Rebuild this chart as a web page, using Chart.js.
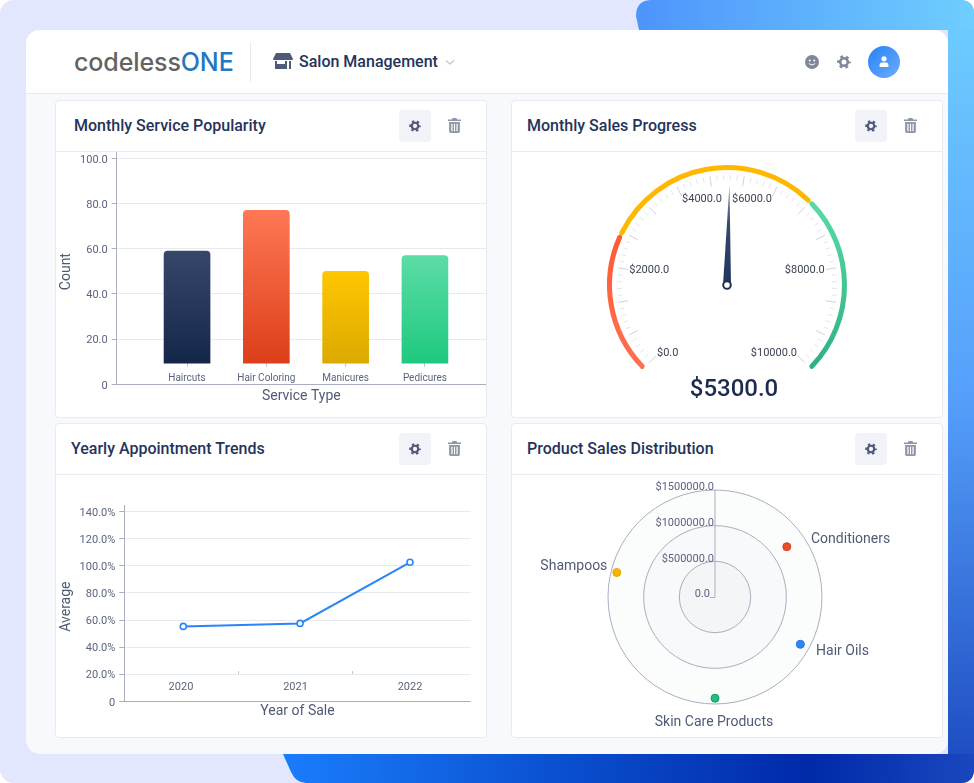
<!DOCTYPE html>
<html>
<head>
<meta charset="utf-8">
<title>Salon Management</title>
<script src="https://cdn.jsdelivr.net/npm/chart.js@4/dist/chart.umd.min.js"></script>
<style>
  html, body { margin: 0; padding: 0; background: #fff; }
  body { width: 974px; height: 783px; position: relative; overflow: hidden; font-family: Roboto, sans-serif; }
  .abs { position: absolute; }
  .bg { left: 0; top: 0; width: 974px; height: 783px; background: #e3e7fd; border-radius: 14px; }
  .blue { left: 0; top: 0; width: 974px; height: 783px;
    clip-path: path("M652 0 H960 Q974 0 974 14 V769 Q974 783 960 783 H306 Q296 783 291 772 L283 754 L500 400 L639 30 L636 16 Q636 0 652 0 Z");
    background:
      linear-gradient(90deg, #4d94fb 636px, #6fceff 974px) 0 0 / 974px 30px no-repeat,
      linear-gradient(90deg, #1a7dfc 283px, #0a50d0 560px, #0029a8 810px, #1a47bf 974px) 0 754px / 974px 29px no-repeat,
      linear-gradient(180deg, #6fceff 0, #559ffb 400px, #3d7be0 560px, #1a47bf 783px) 948px 0 / 26px 783px no-repeat;
  }
  .main { left: 26px; top: 30px; width: 922px; height: 724px; background: #f8f9fc; border-radius: 14px; }
  .top { left: 26px; top: 30px; width: 922px; height: 63px; background: #fff; border-radius: 14px 14px 0 0; border-bottom: 1px solid #e8eaf0; }
  .sep { left: 250px; top: 42px; width: 1px; height: 40px; background: #e8e9ef; }
  .logo { left: 74px; top: 44px; font: 500 25px Inter, sans-serif; color: #636363; line-height: 36px; letter-spacing: -0.1px; white-space: nowrap; }
  .logo b { font-weight: 500; color: #1f78c1; }
  .app { left: 299px; top: 52px; font: 500 16px/20px Roboto, sans-serif; color: #25335a; white-space: nowrap; }
  .card { background: #fff; border: 1px solid #e8ebf2; border-radius: 4px; box-sizing: border-box; }
  .rule { height: 1px; background: #e8ebf2; }
  .title { font: 500 16px/20px Roboto, sans-serif; color: #25335a; white-space: nowrap; }
  .btn { width: 32px; height: 32px; background: #f1f3f8; border-radius: 4px; }
  .big { left: 519px; width: 430px; text-align: center; font: 500 24px/28px Roboto, sans-serif; color: #1d2b4f; top: 374px; }
  canvas { position: absolute; }
</style>
</head>
<body>
<div class="abs bg"></div>
<div class="abs blue"></div>
<div class="abs main"></div>
<div class="abs top"></div>
<div class="abs sep"></div>
<div class="abs logo">codeless<b>ONE</b></div>
<svg class="abs" style="left:273px;top:53px" width="20" height="18" viewBox="0 0 20 18">
  <path d="M3 0H17L20 6Q20 7 19 7H1Q0 7 0 6Z" fill="#4f5a78"/>
  <path d="M2 8H4V11H12V8H14V16H2ZM16 8H18V16H16Z" fill="#4f5a78"/>
</svg>
<div class="abs app">Salon Management</div>
<svg class="abs" style="left:445px;top:59px" width="10" height="7" viewBox="0 0 10 7">
  <path d="M1 1.5L5 5L9 1.5" fill="none" stroke="#c9cdd8" stroke-width="1.6"/>
</svg>
<svg class="abs" style="left:805px;top:55px" width="14" height="14" viewBox="0 0 14 14">
  <circle cx="7" cy="7" r="7" fill="#7f8799"/>
  <circle cx="4.7" cy="5.5" r="1" fill="#fff"/><circle cx="9.3" cy="5.5" r="1" fill="#fff"/>
  <path d="M3.8 8.6Q7 11.4 10.2 8.6" fill="none" stroke="#fff" stroke-width="1"/>
</svg>
<svg width="0" height="0" style="position:absolute">
  <symbol id="gear" viewBox="0 0 14 14">
    <circle cx="7" cy="7" r="3.8" fill="none" stroke="currentColor" stroke-width="2.6"/>
    <circle cx="7" cy="7" r="5.7" fill="none" stroke="currentColor" stroke-width="2.2" stroke-dasharray="2.8 3.16" stroke-dashoffset="1.4"/>
  </symbol>
  <symbol id="trash" viewBox="0 0 14 16">
    <path d="M5 0H9L10 1.5H14V3.2H0V1.5H4Z" fill="currentColor"/>
    <path d="M1.2 4.2H12.8V14.5Q12.8 16 11.3 16H2.7Q1.2 16 1.2 14.5ZM3.6 6V14.2H4.9V6ZM6.4 6V14.2H7.6V6ZM9.1 6V14.2H10.4V6Z" fill="currentColor" fill-rule="evenodd"/>
  </symbol>
</svg>
<svg class="abs" style="left:837px;top:55px;color:#7f8799" width="14" height="14"><use href="#gear"/></svg>
<div class="abs" style="left:868px;top:46px;width:32px;height:32px;border-radius:50%;background:linear-gradient(135deg,#2482f8,#6dadff)"></div>
<svg class="abs" style="left:879px;top:56px" width="10" height="11" viewBox="0 0 10 11">
  <circle cx="5" cy="2.8" r="2.6" fill="#fff"/><path d="M0.6 11V9Q0.6 6.4 3 6.4H7Q9.4 6.4 9.4 9V11Z" fill="#fff"/>
</svg>

<div class="abs card" style="left:55px;top:100px;width:432px;height:318px"></div>
<div class="abs card" style="left:511px;top:100px;width:432px;height:318px"></div>
<div class="abs card" style="left:55px;top:423px;width:432px;height:315px"></div>
<div class="abs card" style="left:511px;top:423px;width:432px;height:315px"></div>
<div class="abs rule" style="left:56px;top:151px;width:430px"></div>
<div class="abs rule" style="left:512px;top:151px;width:430px"></div>
<div class="abs rule" style="left:56px;top:474px;width:430px"></div>
<div class="abs rule" style="left:512px;top:474px;width:430px"></div>
<div class="abs title" style="left:74px;top:116px">Monthly Service Popularity</div>
<div class="abs title" style="left:527px;top:116px">Monthly Sales Progress</div>
<div class="abs title" style="left:71px;top:439px">Yearly Appointment Trends</div>
<div class="abs title" style="left:527px;top:439px">Product Sales Distribution</div>

<div class="abs btn" style="left:399px;top:110px"></div>
<div class="abs btn" style="left:855px;top:110px"></div>
<div class="abs btn" style="left:399px;top:433px"></div>
<div class="abs btn" style="left:855px;top:433px"></div>
<svg class="abs" style="left:409px;top:120px;color:#4f5a78" width="12" height="12"><use href="#gear"/></svg>
<svg class="abs" style="left:865px;top:120px;color:#4f5a78" width="12" height="12"><use href="#gear"/></svg>
<svg class="abs" style="left:409px;top:443px;color:#4f5a78" width="12" height="12"><use href="#gear"/></svg>
<svg class="abs" style="left:865px;top:443px;color:#4f5a78" width="12" height="12"><use href="#gear"/></svg>
<svg class="abs" style="left:448px;top:118px;color:#8f96a6" width="13" height="15"><use href="#trash"/></svg>
<svg class="abs" style="left:904px;top:118px;color:#8f96a6" width="13" height="15"><use href="#trash"/></svg>
<svg class="abs" style="left:448px;top:441px;color:#8f96a6" width="13" height="15"><use href="#trash"/></svg>
<svg class="abs" style="left:904px;top:441px;color:#8f96a6" width="13" height="15"><use href="#trash"/></svg>

<canvas id="barChart" width="430" height="285" style="left:56px;top:132px"></canvas>
<canvas id="gaugeChart" width="430" height="265" style="left:512px;top:152px"></canvas>
<canvas id="lineChart" width="430" height="262" style="left:56px;top:475px"></canvas>
<canvas id="polarChart" width="430" height="262" style="left:512px;top:475px"></canvas>
<div class="abs big" id="gaugeText"></div>

<script>
// monthly service popularity
const serviceTypes = ['Haircuts', 'Hair Coloring', 'Manicures', 'Pedicures'];
const serviceCounts = [59, 77, 50, 57];
const serviceBase = 9.4;
const serviceTicks = [0, 20, 40, 60, 80, 100];
const serviceTickLabels = ['0', '20.0', '40.0', '60.0', '80.0', '100.0'];
const serviceTops = ['#36476a', '#ff7755', '#ffc600', '#5cdca6'];
const serviceBottoms = ['#14264a', '#dc3f19', '#dcaa00', '#1fc97f'];

// monthly sales gauge
const gaugeBands = [2600, 4067, 3333];
const gaugeValue = 5300;
const gaugeNeedle = 5052; // where the needle actually points in the picture
const gaugeMax = 10000;
const gaugeTicks = [0, 2000, 4000, 6000, 8000, 10000];
const gaugeTickLabels = ['$0.0', '$2000.0', '$4000.0', '$6000.0', '$8000.0', '$10000.0'];

// yearly trends
const years = ['2020', '2021', '2022'];
const yearPositions = [0.02, 1.04, 2];
const yearAverages = [55.3, 57.5, 102.6];
const yearTicks = [0, 20, 40, 60, 80, 100, 120, 140];
const yearTickLabels = ['0', '20.0%', '40.0%', '60.0%', '80.0%', '100.0%', '120.0%', '140.0%'];

// product distribution
const products = ['Conditioners', 'Hair Oils', 'Skin Care Products', 'Shampoos'];
const productAngles = [55, 119, 180, 284];
const productSales = [1229000, 1368000, 1419000, 1419000];
const productColors = ['#e8502a', '#2f86f6', '#22c07f', '#f5b400'];
const productBorders = ['#d8421f', '#2474e0', '#15996a', '#e8a800'];

Chart.defaults.font.family = 'Roboto';
Chart.defaults.animation = false;
Chart.defaults.plugins.legend.display = false;
Chart.defaults.plugins.tooltip.enabled = false;

const labelColor = '#5b6480';
const titleColor = '#4f5a75';
const gridColor = '#e8eaf1';
const axisColor = '#a9afc0';

function cartesianX(id, range, axisY, at, labels, title, tickLen, padding, titlePad) {
  const scales = {};
  scales[id] = {
    type: 'linear', offset: false, min: range[0], max: range[1], position: { y: axisY },
    afterBuildTicks: s => { s.ticks = labels.map((l, i) => ({ value: i })); },
    ticks: { callback: (v, i) => labels[i], color: labelColor, font: { size: at }, padding: padding, maxRotation: 0, autoSkip: false },
    grid: { display: false, drawTicks: false }, border: { display: false }
  };
  // second axis only carries the marks between categories and the axis title
  scales[id + 'Gaps'] = {
    type: 'linear', offset: false, min: range[0], max: range[1], position: { y: axisY },
    afterBuildTicks: s => { s.ticks = labels.slice(1).map((l, i) => ({ value: i + 0.5 })); },
    ticks: { display: false },
    grid: { drawOnChartArea: false, drawTicks: true, tickLength: tickLen, tickColor: '#c4c8d4' }, border: { display: false },
    title: { display: true, text: title, color: titleColor, font: { size: 14 }, padding: { top: titlePad, bottom: 0 } }
  };
  return scales;
}

function cartesianY(max, ticks, labels, title, width) {
  return {
    min: 0, max: max,
    afterFit: s => { s.width = width; },
    afterBuildTicks: s => { s.ticks = ticks.map(value => ({ value })); },
    ticks: { callback: (v, i) => labels[i], color: labelColor, font: { size: 11 }, padding: 4, labelOffset: 1.5, autoSkip: false },
    grid: { color: c => c.tick && c.tick.value === 0 ? axisColor : gridColor, tickColor: axisColor, tickLength: 5 },
    border: { color: axisColor },
    // trailing spaces push the rotated title a little below the axis middle, as in the picture
    title: { display: true, text: title + '\u00a0\u00a0', color: titleColor, font: { size: 14 }, padding: { top: 2, bottom: 0 } }
  };
}

new Chart(document.getElementById('barChart'), {
  type: 'bar',
  data: {
    datasets: [{
      data: serviceCounts.map((v, i) => ({ x: i, y: v })),
      base: serviceBase,
      barThickness: 46,
      borderRadius: { topLeft: 4, topRight: 4 },
      borderSkipped: 'bottom',
      backgroundColor: c => {
        if (c.type !== 'data' || !c.chart.chartArea) return serviceTops[c.dataIndex || 0];
        const y = c.chart.scales.y;
        const g = c.chart.ctx.createLinearGradient(0, y.getPixelForValue(serviceCounts[c.dataIndex]), 0, y.getPixelForValue(serviceBase));
        g.addColorStop(0, serviceTops[c.dataIndex]);
        g.addColorStop(1, serviceBottoms[c.dataIndex]);
        return g;
      }
    }]
  },
  options: {
    responsive: false,
    layout: { autoPadding: false, padding: { top: 20, bottom: 32.7 } },
    scales: Object.assign(
      cartesianX('x', [-0.887, 3.77], serviceBase, 10, serviceTypes, 'Service Type', 4, 9.7, 21),
      { y: cartesianY(102.8, serviceTicks, serviceTickLabels, 'Count', 60.7) }
    )
  }
});

new Chart(document.getElementById('lineChart'), {
  type: 'line',
  data: {
    datasets: [{
      data: yearAverages.map((v, i) => ({ x: yearPositions[i], y: v })),
      borderColor: '#2a86f8', borderWidth: 2, tension: 0,
      pointRadius: 3, pointBorderWidth: 1.6, pointBackgroundColor: '#fff', pointBorderColor: '#2a86f8'
    }]
  },
  options: {
    responsive: false,
    layout: { autoPadding: false, padding: { top: 30, right: 15.3, bottom: 35.7 } },
    scales: Object.assign(
      cartesianX('x', [-0.495, 2.53], 22.2, 11, years, 'Year of Sale', 3, 9.5, 28.5),
      { y: cartesianY(144.9, yearTicks, yearTickLabels, 'Average', 68.3) }
    )
  }
});

// ticks, labels and needle sit on the gauge arc
const gaugeDial = {
  id: 'gaugeDial',
  afterDatasetsDraw(chart) {
    const arc = chart.getDatasetMeta(0).data[0];
    const ctx = chart.ctx;
    const cx = arc.x, cy = arc.y;
    const angleOf = v => (-135 + 270 * v / gaugeMax - 90) * Math.PI / 180;
    ctx.save();
    for (let i = 0; i <= 75; i++) {
      const a = angleOf(gaugeMax * i / 75);
      const long = i % 5 === 0;
      ctx.strokeStyle = long ? '#ced1db' : '#e4e6ec';
      ctx.lineWidth = 1;
      ctx.beginPath();
      ctx.moveTo(cx + Math.cos(a) * (long ? 100 : 105), cy + Math.sin(a) * (long ? 100 : 105));
      ctx.lineTo(cx + Math.cos(a) * 110, cy + Math.sin(a) * 110);
      ctx.stroke();
    }
    ctx.font = '11px Roboto';
    ctx.fillStyle = '#3d4356';
    ctx.textBaseline = 'middle';
    gaugeTicks.forEach((v, i) => {
      const a = angleOf(v);
      ctx.textAlign = v < gaugeMax / 2 ? 'left' : 'right';
      ctx.fillText(gaugeTickLabels[i], cx + Math.cos(a) * 99, cy + Math.sin(a) * 96);
    });
    const n = angleOf(gaugeNeedle);
    const tipX = cx + Math.cos(n) * 100, tipY = cy + Math.sin(n) * 100;
    const px = -Math.sin(n) * 4, py = Math.cos(n) * 4;
    const g = ctx.createLinearGradient(cx, cy, tipX, tipY);
    g.addColorStop(0, '#22365c');
    g.addColorStop(0.6, '#34486e');
    g.addColorStop(1, '#8a94ab');
    ctx.fillStyle = g;
    ctx.beginPath();
    ctx.moveTo(cx + px, cy + py);
    ctx.lineTo(tipX, tipY);
    ctx.lineTo(cx - px, cy - py);
    ctx.closePath();
    ctx.fill();
    ctx.fillStyle = '#fff';
    ctx.strokeStyle = '#1e3050';
    ctx.lineWidth = 2;
    ctx.beginPath();
    ctx.arc(cx, cy, 3.8, 0, Math.PI * 2);
    ctx.fill();
    ctx.stroke();
    ctx.restore();
  }
};

new Chart(document.getElementById('gaugeChart'), {
  type: 'doughnut',
  data: {
    datasets: [{
      data: gaugeBands,
      borderWidth: 0,
      borderRadius: 2.5,
      backgroundColor: c => {
        const ctx = c.chart.ctx;
        if (c.dataIndex === 1) return '#ffb800';
        const g = ctx.createLinearGradient(0, 60, 0, 215);
        g.addColorStop(0, c.dataIndex === 0 ? '#ff5733' : '#55d8a4');
        g.addColorStop(1, c.dataIndex === 0 ? '#ff7050' : '#2fb181');
        return g;
      }
    }]
  },
  options: {
    responsive: false,
    layout: { padding: { bottom: 34 } },
    rotation: -135, circumference: 270, radius: 120, cutout: '95.8%'
  },
  plugins: [gaugeDial]
});
document.getElementById('gaugeText').textContent = '$' + gaugeValue.toFixed(1);

// product points go on one spoke per degree, only the four read angles carry data
const polarLabels = new Array(360).fill('');
const polarValues = new Array(360).fill(null);
const polarColors = new Array(360).fill(null);
const polarBorders = new Array(360).fill(null);
products.forEach((p, i) => {
  polarValues[productAngles[i]] = productSales[i];
  polarColors[productAngles[i]] = productColors[i];
  polarBorders[productAngles[i]] = productBorders[i];
});

const polarRings = {
  id: 'polarRings',
  beforeDraw(chart) {
    const s = chart.scales.r, ctx = chart.ctx;
    const fills = ['#fbfcfc', '#f8f9fa', '#f4f5f6'];
    ctx.save();
    s.ticks.slice(1).reverse().forEach((t, i) => {
      ctx.fillStyle = fills[i];
      ctx.beginPath();
      ctx.arc(s.xCenter, s.yCenter, s.getDistanceFromCenterForValue(t.value), 0, Math.PI * 2);
      ctx.fill();
    });
    ctx.restore();
  },
  beforeDatasetsDraw(chart) {
    const s = chart.scales.r, ctx = chart.ctx;
    ctx.save();
    ctx.font = '11px Roboto';
    ctx.fillStyle = labelColor;
    ctx.textAlign = 'right';
    ctx.textBaseline = 'middle';
    s.ticks.forEach(t => {
      const d = s.getDistanceFromCenterForValue(t.value);
      ctx.fillText(t.label, s.xCenter - (t.value === 0 ? 5 : 1), s.yCenter - d - 2.5);
    });
    ctx.strokeStyle = axisColor;
    ctx.lineWidth = 1;
    ctx.beginPath();
    ctx.moveTo(s.xCenter - 5, s.yCenter + 0.5);
    ctx.lineTo(s.xCenter, s.yCenter + 0.5);
    ctx.stroke();
    // product names, centred on their own angle just outside the last ring
    const nameSpots = [[59, 112], [118.5, 115], [180, 125], [286, 112]];
    ctx.font = '14px Roboto';
    ctx.fillStyle = titleColor;
    products.forEach((p, i) => {
      const [deg, d] = nameSpots[i];
      const a = (deg - 90) * Math.PI / 180;
      ctx.textAlign = deg === 180 ? 'center' : deg < 180 ? 'left' : 'right';
      ctx.fillText(p, s.xCenter + Math.cos(a) * d - (deg === 180 ? 1 : 0), s.yCenter + Math.sin(a) * d);
    });
    ctx.restore();
  }
};

new Chart(document.getElementById('polarChart'), {
  type: 'radar',
  data: {
    labels: polarLabels,
    datasets: [{
      data: polarValues,
      showLine: false,
      pointRadius: 4,
      pointBorderWidth: 1,
      pointBackgroundColor: polarColors,
      pointBorderColor: polarBorders
    }]
  },
  options: {
    responsive: false,
    layout: { autoPadding: false, padding: { left: 96, right: 120, top: 15, bottom: 33 } },
    scales: {
      r: {
        min: 0, max: 1500000,
        ticks: {
          display: false, stepSize: 500000,
          callback: v => v === 0 ? '0.0' : '$' + v.toFixed(1)
        },
        grid: { circular: true, color: axisColor },
        angleLines: { color: axisColor, lineWidth: c => c.index === 0 ? 1 : 0 },
        pointLabels: { display: false }
      }
    }
  },
  plugins: [polarRings]
});
</script>
</body>
</html>
